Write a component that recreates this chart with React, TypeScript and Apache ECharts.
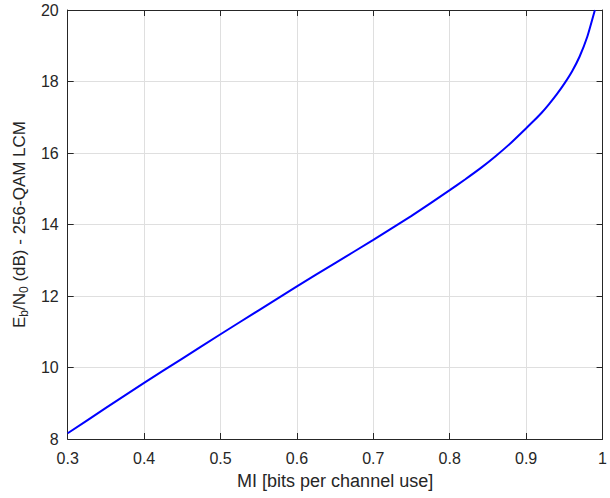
import React, { useEffect, useRef } from "react";
import * as echarts from "echarts";

// Mutual information (bits per channel use) and the Eb/N0 needed for it
const miValues = [
  0.3, 0.35, 0.4, 0.45, 0.5, 0.55, 0.6, 0.65, 0.7, 0.75, 0.8,
  0.82, 0.84, 0.86, 0.88, 0.9, 0.91, 0.92, 0.93, 0.94, 0.95, 0.96, 0.97, 0.98, 0.99,
];
const ebn0Values = [
  8.16, 8.87, 9.57, 10.25, 10.93, 11.6, 12.27, 12.92, 13.57, 14.24, 14.96,
  15.26, 15.57, 15.91, 16.28, 16.69, 16.9, 17.12, 17.37, 17.64, 17.94, 18.28, 18.7, 19.25, 20.0,
];

const FONT = "Liberation Sans";
const INK = "#262626";
const GRID = "#dfdfdf";

export default function App() {
  const ref = useRef<HTMLDivElement>(null);

  useEffect(() => {
    if (!ref.current) return;
    document.body.style.margin = "0";
    const chart = echarts.init(ref.current, null, { renderer: "svg" });

    chart.setOption({
      animation: false,
      grid: { left: 64, right: 2, top: 10, bottom: 59 },
      xAxis: [
        {
          type: "value",
          min: 0.3,
          max: 1,
          interval: 0.1,
          position: "bottom",
          axisLine: { show: true, onZero: false, lineStyle: { color: INK, width: 1 } },
          axisTick: { show: true, inside: true, length: 6, lineStyle: { color: INK, width: 1 } },
          name: "MI [bits per channel use]",
          nameLocation: "middle",
          nameGap: 33,
          nameTextStyle: { color: INK, fontFamily: FONT, fontSize: 18 },
          axisLabel: { color: INK, fontFamily: FONT, fontSize: 16, margin: 11 },
          splitLine: { show: true, lineStyle: { color: GRID, width: 1 } },
        },
        {
          type: "value",
          min: 0.3,
          max: 1,
          interval: 0.1,
          position: "top",
          axisLine: { show: true, onZero: false, lineStyle: { color: INK, width: 1 } },
          axisTick: { show: true, inside: true, length: 6, lineStyle: { color: INK, width: 1 } },
          axisLabel: { show: false },
          splitLine: { show: false },
        },
      ],
      yAxis: [
        {
          type: "value",
          min: 8,
          max: 20,
          interval: 2,
          position: "left",
          axisLine: { show: true, onZero: false, lineStyle: { color: INK, width: 1 } },
          axisTick: { show: true, inside: true, length: 6, lineStyle: { color: INK, width: 1 } },
          name: "{n|E}{s|b}{n|/N}{s|0}{n| (dB) - 256-QAM LCM}",
          nameLocation: "middle",
          nameGap: 35,
          nameTextStyle: {
            color: INK,
            fontFamily: FONT,
            fontSize: 17,
            rich: {
              n: { fontSize: 17, fontFamily: FONT, color: INK, lineHeight: 24 },
              s: { fontSize: 12, fontFamily: FONT, color: INK, lineHeight: 24, padding: [10, 0, 0, 0] },
            },
          },
          axisLabel: { color: INK, fontFamily: FONT, fontSize: 16, margin: 9 },
          splitLine: { show: true, lineStyle: { color: GRID, width: 1 } },
        },
        {
          type: "value",
          min: 8,
          max: 20,
          interval: 2,
          position: "right",
          axisLine: { show: true, onZero: false, lineStyle: { color: INK, width: 1 } },
          axisTick: { show: true, inside: true, length: 6, lineStyle: { color: INK, width: 1 } },
          axisLabel: { show: false },
          splitLine: { show: false },
        },
      ],
      series: [
        {
          type: "line",
          xAxisIndex: 0,
          yAxisIndex: 0,
          data: miValues.map((x, i) => [x, ebn0Values[i]]),
          showSymbol: false,
          smooth: 0.15,
          lineStyle: { color: "#0000ff", width: 2 },
        },
      ],
    });

    return () => chart.dispose();
  }, []);

  return <div ref={ref} style={{ width: 610, height: 498 }} />;
}
